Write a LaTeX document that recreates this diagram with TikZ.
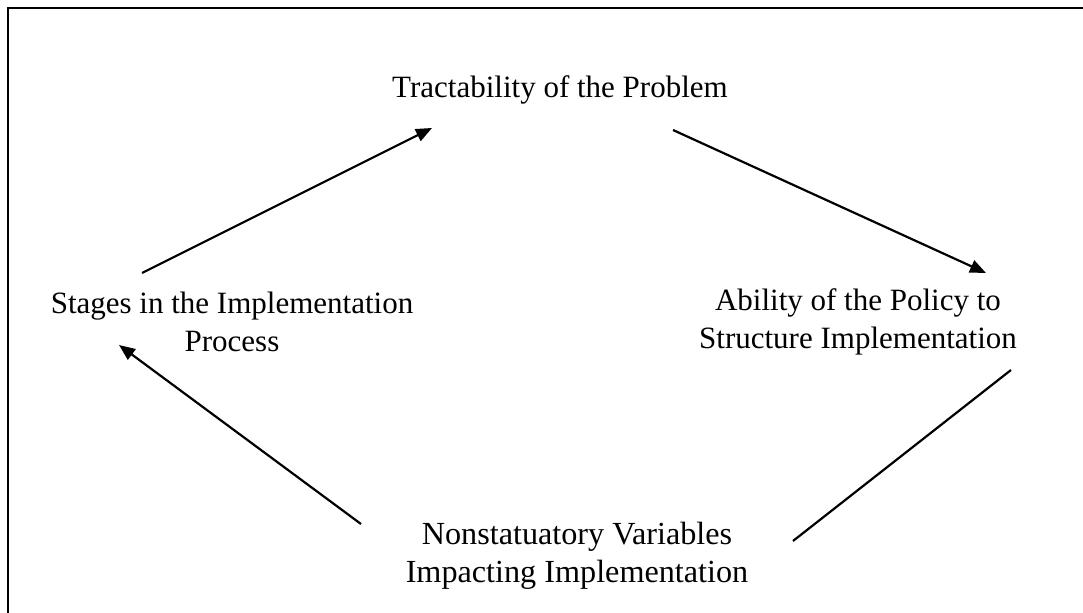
\documentclass[tikz,border=0pt]{standalone}
\usepackage{fontspec}
\setmainfont{Liberation Serif}
\usetikzlibrary{arrows.meta}
\begin{document}
\begin{tikzpicture}[x=0.5pt,y=-0.5pt,
  label/.style={align=center,inner sep=0pt,font=\fontsize{15.5}{19.2}\selectfont},
  biglabel/.style={label,font=\fontsize{16.1}{19.2}\selectfont},
  link/.style={line width=1.1pt},
  arrowlink/.style={link,-{Triangle[length=8pt,width=6.5pt]}},
  frame/.style={line width=1pt}]
\useasboundingbox (0,0) rectangle (1083,613);
% outer frame (only the top and left sides fall inside the page)
\draw[frame] (8,613) -- (8,8) -- (1083,8);

\node[label,anchor=base] (tract) at (560,98) {Tractability of the Problem};
\node[label] (stages) at (232,322) {Stages in the Implementation\\Process};
\node[label] (ability) at (858,322) {Ability of the Policy to\\Structure Implementation};
\node[biglabel] (nonstat) at (577,556) {Nonstatuatory Variables\\Impacting Implementation};

% connector ends
\coordinate (s1) at (142,273);
\coordinate (t1) at (432,128);
\coordinate (t2) at (673,130);
\coordinate (a1) at (986,273);
\coordinate (a2) at (1011,370);
\coordinate (n1) at (793,541);
\coordinate (n2) at (361,524);
\coordinate (s2) at (119,345);

\draw[arrowlink] (s1) -- (t1);
\draw[arrowlink] (t2) -- (a1);
\draw[link] (a2) -- (n1);
\draw[arrowlink] (n2) -- (s2);
\end{tikzpicture}
\end{document}
